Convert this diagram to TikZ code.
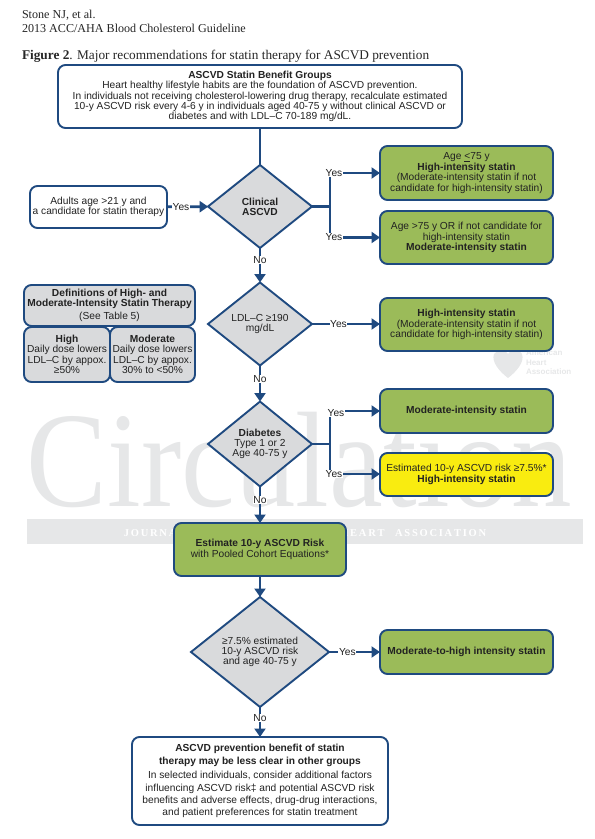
\documentclass[tikz,border=0pt]{standalone}
\usepackage{fontspec}
\setmainfont{Liberation Sans}
\newfontfamily\serifface{Liberation Serif}
\usetikzlibrary{shapes.geometric,arrows.meta}
\definecolor{navy}{HTML}{1F4A80}
\definecolor{greyfill}{HTML}{D9DADC}
\definecolor{greenfill}{HTML}{9BBB59}
\definecolor{yellowfill}{HTML}{F9EC10}
\definecolor{wm}{HTML}{E6E7E8}
\definecolor{ink}{HTML}{222222}
\tikzset{
  x=1pt,y=-1pt,
  every node/.style={outer sep=0pt,inner sep=0pt,text=ink},
  boxbase/.style={draw=navy,line width=1.9pt,rounded corners=7.5pt,anchor=north west,align=center,font=\fontsize{10.2}{10.4}\selectfont},
  whitebox/.style={boxbase,fill=white},
  greybox/.style={boxbase,fill=greyfill},
  greenbox/.style={boxbase,fill=greenfill},
  yellowbox/.style={boxbase,fill=yellowfill},
  dec/.style={diamond,draw=navy,line width=1.9pt,fill=greyfill,align=center,minimum width=104pt,minimum height=83pt,font=\fontsize{10.2}{10.2}\selectfont},
  conn/.style={draw=navy,line width=2.8pt},
  arr/.style={conn,-{Triangle[length=8.5pt,width=11pt]}},
  lab/.style={fill=white,inner sep=0.6pt,font=\fontsize{10.2}{10.2}\selectfont},
  hdr/.style={anchor=base west,font=\serifface\fontsize{12.1}{14}\selectfont,text=black!85},
}
\begin{document}
\begin{tikzpicture}
\useasboundingbox (0,0) rectangle (595,839);
% watermark
\node[anchor=base west,xscale=0.89,text=wm,font=\serifface\fontsize{136}{136}\selectfont] (wmark) at (27,506) {Circulation};
\fill[wm] (27,519) rectangle (583,544);
\node[anchor=base,text=white,font=\serifface\bfseries\fontsize{10.5}{12}\selectfont] (wmband) at (305,536) {J\,O\,U\,R\,N\,A\,L\quad O\,F\quad T\,H\,E\quad A\,M\,E\,R\,I\,C\,A\,N\quad H\,E\,A\,R\,T\quad A\,S\,S\,O\,C\,I\,A\,T\,I\,O\,N};
\fill[wm] (494,354) .. controls (500,348) and (506,350) .. (508,354) .. controls (510,350) and (518,348) .. (522,354) .. controls (525,362) and (516,372) .. (508,378) .. controls (500,372) and (491,362) .. (494,354) -- cycle;
\node[anchor=north west,align=left,text=wm,font=\bfseries\fontsize{8}{9.5}\selectfont] (wmlogo) at (526,350) {American\\Heart\\Association};
% header
\node[hdr] (h1) at (22,18) {Stone NJ, et al.};
\node[hdr] (h2) at (22,32) {2013 ACC/AHA Blood Cholesterol Guideline};
\node[hdr,font=\serifface\fontsize{13.3}{14}\selectfont] (h3) at (22,59) {\textbf{Figure 2}. Major recommendations for statin therapy for ASCVD prevention};
% boxes
\node[whitebox,minimum width=404pt,minimum height=63pt] (top) at (58,65) {\textbf{ASCVD Statin Benefit Groups}\\Heart healthy lifestyle habits are the foundation of ASCVD prevention.\\In individuals not receiving cholesterol-lowering drug therapy, recalculate estimated\\10-y ASCVD risk every 4-6 y in individuals aged 40-75 y without clinical ASCVD or\\diabetes and with LDL--C 70-189 mg/dL.};
\node[whitebox,minimum width=137pt,minimum height=42pt] (adults) at (30,186) {Adults age >21 y and\\a candidate for statin therapy};
\node[dec] (d1) at (260,206.5) {\textbf{Clinical}\\\textbf{ASCVD}};
\node[dec] (d2) at (260,324) {LDL--C ≥190\\mg/dL};
\node[dec] (d3) at (260,444) {\textbf{Diabetes}\\Type 1 or 2\\Age 40-75 y};
\node[dec,minimum width=138pt,minimum height=110pt] (d4) at (260,652) {≥7.5\% estimated\\10-y ASCVD risk\\and age 40-75 y};
\node[greenbox,minimum width=173pt,minimum height=54pt] (g1) at (380,146) {Age \underline{<}75 y\\\textbf{High-intensity statin}\\(Moderate-intensity statin if not\\candidate for high-intensity statin)};
\node[greenbox,minimum width=173pt,minimum height=53pt] (g2) at (380,211) {Age >75 y OR if not candidate for\\high-intensity statin\\\textbf{Moderate-intensity statin}};
\node[greenbox,minimum width=173pt,minimum height=53pt] (g3) at (380,298) {\textbf{High-intensity statin}\\(Moderate-intensity statin if not\\candidate for high-intensity statin)};
\node[greenbox,minimum width=173pt,minimum height=44pt] (g4) at (380,389) {\textbf{Moderate-intensity statin}};
\node[yellowbox,minimum width=173pt,minimum height=43pt] (y5) at (380,453) {Estimated 10-y ASCVD risk ≥7.5\%*\\\textbf{High-intensity statin}};
\node[greenbox,minimum width=173pt,minimum height=44pt] (g6) at (380,630) {\textbf{Moderate-to-high intensity statin}};
\node[greenbox,minimum width=172pt,minimum height=53pt] (est) at (174,523) {\textbf{Estimate 10-y ASCVD Risk}\\with Pooled Cohort Equations*};
\node[greybox,minimum width=171pt,minimum height=41pt] (def) at (24,285) {\textbf{Definitions of High- and}\\\textbf{Moderate-Intensity Statin Therapy}\\[2.5pt](See Table 5)};
\node[greybox,minimum width=86pt,minimum height=55pt] (hi) at (24,327) {\textbf{High}\\Daily dose lowers\\LDL--C by appox.\\≥50\%};
\node[greybox,minimum width=85pt,minimum height=55pt] (mo) at (110,327) {\textbf{Moderate}\\Daily dose lowers\\LDL--C by appox.\\30\% to <50\%};
\node[whitebox,minimum width=256pt,minimum height=88pt,font=\fontsize{10.2}{12.3}\selectfont] (bot) at (132,737) {\textbf{ASCVD prevention benefit of statin}\\[1pt]\textbf{therapy may be less clear in other groups}\\[2pt]In selected individuals, consider additional factors\\influencing ASCVD risk‡ and potential ASCVD risk\\benefits and adverse effects, drug-drug interactions,\\and patient preferences for statin treatment};
% junction coordinates
\coordinate (j1) at (330,206.5);
\coordinate (j1a) at (330,173);
\coordinate (j1b) at (330,237.5);
\coordinate (j3) at (330,444);
\coordinate (j3a) at (330,411);
\coordinate (j3b) at (330,474);
% connectors
\draw[conn] (top) -- (d1);
\draw[arr] (d1) -- (d2) node[lab,pos=0.34] (n1) {No};
\draw[arr] (d2) -- (d3) node[lab,pos=0.37] (n2) {No};
\draw[arr] (d3) -- (d3 |- est.north) node[lab,pos=0.37] (n3) {No};
\draw[arr] (est) -- (d4);
\draw[arr] (d4) -- (d4 |- bot.north) node[lab,pos=0.37] (n4) {No};
\draw[arr] (adults) -- (d1) node[lab,pos=0.34] (y0) {Yes};
\draw[conn] (d1) -- (j1);
\draw[conn] (j1a) -- (j1b);
\draw[arr] (j1a) -- (j1a -| g1.west) node[lab,pos=0.08] (y1) {Yes};
\draw[arr] (j1b) -- (j1b -| g2.west) node[lab,pos=0.08] (y2) {Yes};
\draw[arr] (d2) -- (d2 -| g3.west) node[lab,pos=0.39] (y3) {Yes};
\draw[conn] (d3) -- (j3);
\draw[conn] (j3a) -- (j3b);
\draw[arr] (j3a) -- (j3a -| g4.west) node[lab,pos=0.12,yshift=-2pt] (y4) {Yes};
\draw[arr] (j3b) -- (j3b -| y5.west) node[lab,pos=0.08] (y5l) {Yes};
\draw[arr] (d4) -- (d4 -| g6.west) node[lab,pos=0.36] (y6) {Yes};
\end{tikzpicture}
\end{document}
